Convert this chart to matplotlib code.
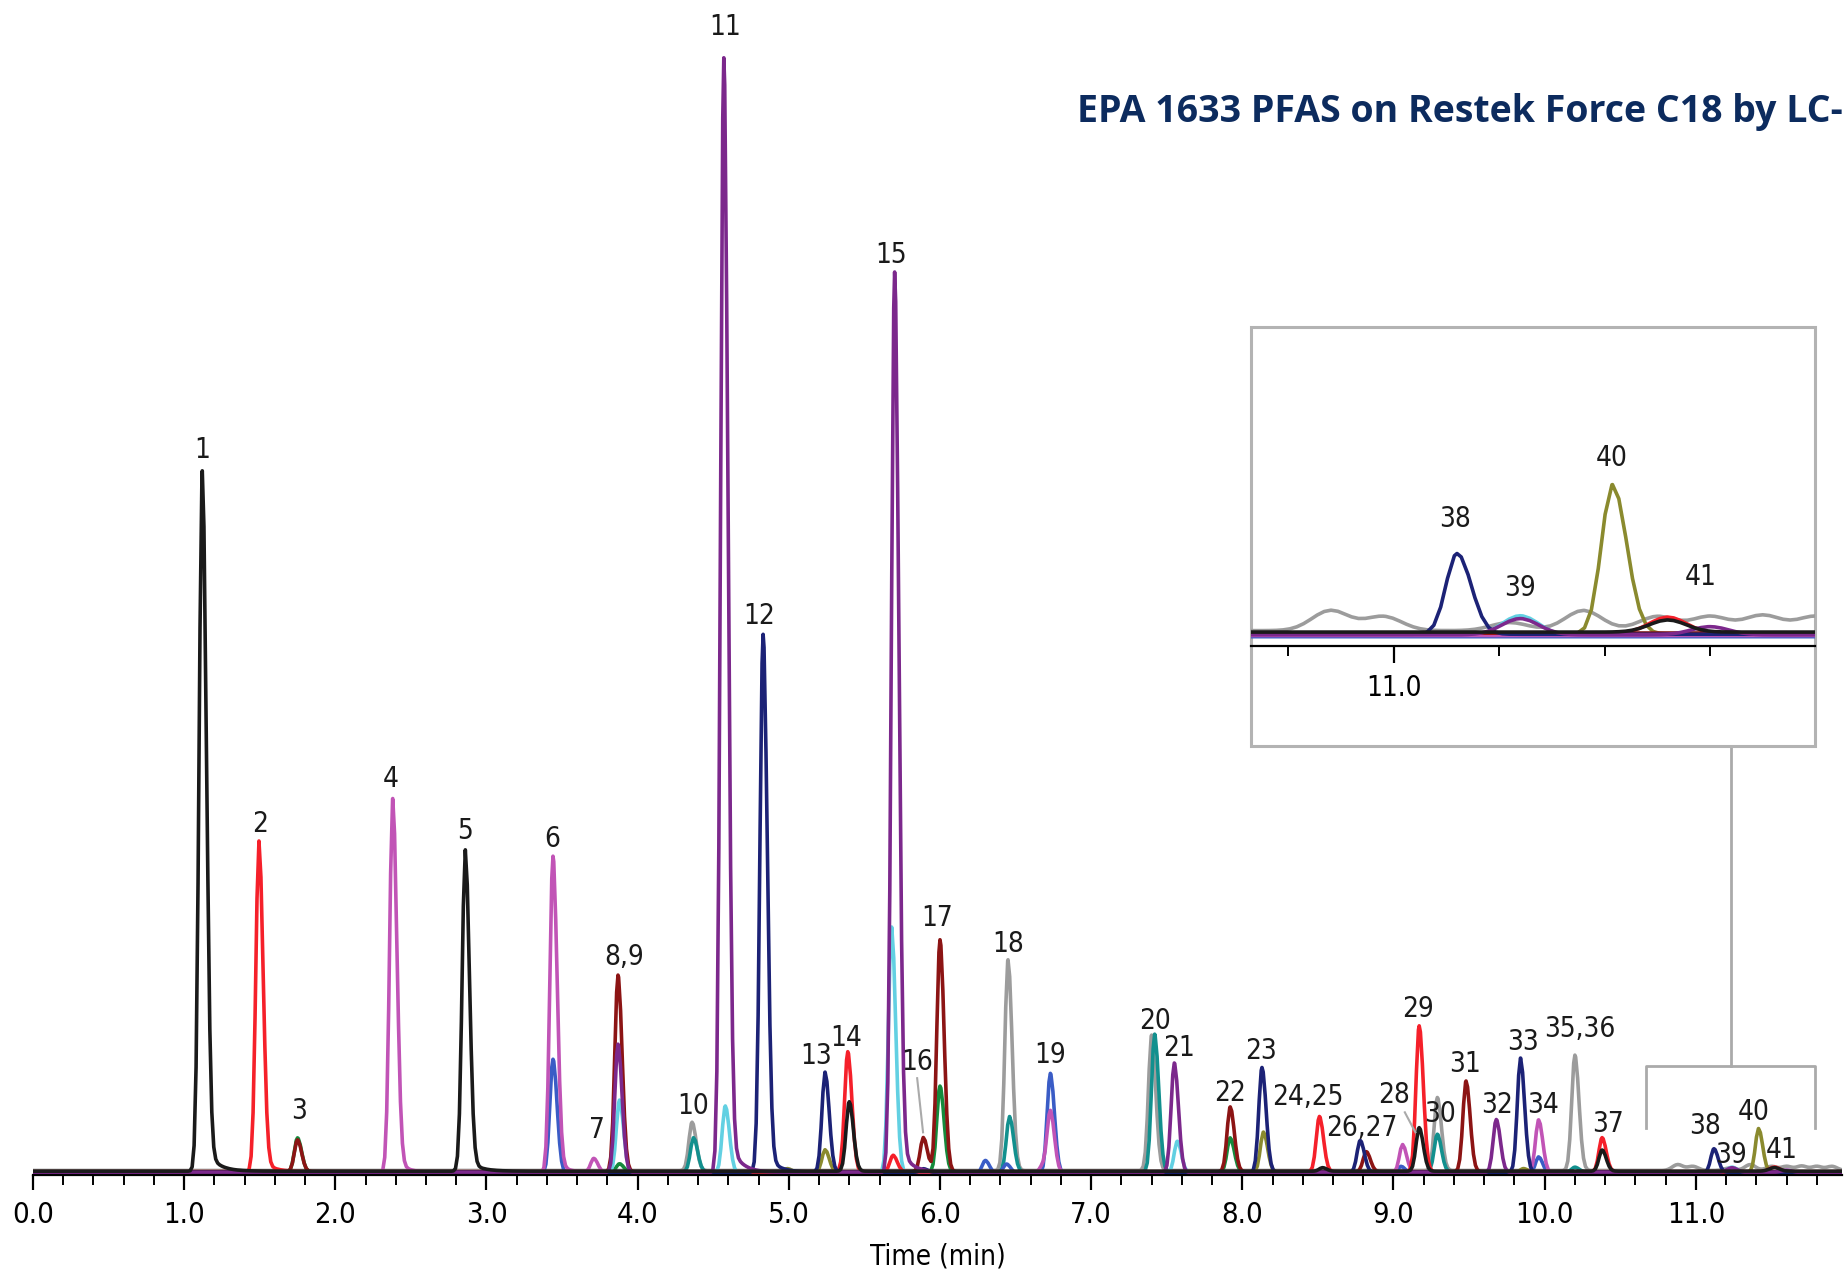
import numpy as np
import matplotlib
matplotlib.use('Agg')
from matplotlib import pyplot as plt
from matplotlib.patches import Rectangle

# retention times (min) and heights (arbitrary units), per trace colour
black_rt = [1.12, 2.86, 5.40, 8.53, 9.17, 10.38, 11.52]
black_h = [595, 273, 59, 3, 37, 18, 3]
red_rt = [1.495, 5.39, 5.69, 8.51, 9.17, 10.38, 11.52]
red_h = [281, 102, 14, 47, 124, 29, 4]
darkred_rt = [1.75, 3.87, 5.89, 6.00, 7.92, 8.82, 9.48]
darkred_h = [27, 167, 29, 197, 55, 17, 77]
orchid_rt = [2.38, 3.44, 3.71, 6.68, 6.73, 9.06, 9.96]
orchid_h = [318, 269, 12, 6, 52, 24, 45]
purple_rt = [3.87, 4.57, 5.70, 7.55, 9.68, 11.24, 11.60]
purple_h = [109, 947, 765, 93, 45, 4, 2]
navy_rt = [4.83, 5.24, 5.89, 8.13, 8.78, 9.84, 11.12]
navy_h = [457, 85, 3, 89, 27, 97, 20]
blue_rt = [3.44, 6.30, 6.44, 6.73, 9.05, 9.96]
blue_h = [97, 11, 8, 85, 6, 14]
cyan_rt = [3.88, 4.58, 5.68, 7.57, 11.24]
cyan_h = [62, 57, 209, 27, 5]
teal_rt = [4.37, 6.46, 7.42, 9.29, 10.20]
teal_h = [29, 47, 117, 32, 4]
green_rt = [1.75, 3.88, 6.00, 7.92]
green_h = [29, 7, 73, 29]
grey_rt = [4.36, 6.45, 7.40, 9.29, 10.20]
grey_h = [41, 179, 115, 62, 98]
olive_rt = [4.99, 5.24, 8.14, 9.86, 11.415]
olive_h = [3, 19, 34, 3, 37]
# late grey baseline drift (broad low bumps)
grey_drift_rt = [10.88, 10.98, 11.22, 11.36, 11.50, 11.60, 11.70, 11.80, 11.90]
grey_drift_h = [5, 3.5, 2, 5, 3.5, 3.5, 3.8, 3.5, 3.5]

peak_labels = ['1', '2', '3', '4', '5', '6', '7', '8,9', '10', '11', '12', '13', '14', '15', '16',
               '17', '18', '19', '20', '21', '22', '23', '24,25', '26,27', '28', '29', '30', '31',
               '32', '33', '34', '35,36', '37', '38', '39', '40', '41']
label_t = [1.121, 1.503, 1.760, 2.368, 2.858, 3.435, 3.730, 3.910, 4.369, 4.579, 4.805, 5.179,
           5.382, 5.678, 5.849, 5.981, 6.449, 6.729, 7.422, 7.578, 7.921, 8.123, 8.435, 8.793,
           9.003, 9.159, 9.307, 9.470, 9.688, 9.860, 9.992, 10.234, 10.420, 11.059, 11.231,
           11.386, 11.565]
label_y = [613, 295, 51, 333, 289, 282, 35, 182, 55, 972, 472, 98, 113, 778, 93, 215, 193, 99,
           128, 105, 66, 102, 63, 37, 65, 138, 49, 91, 56, 110, 56, 121, 40, 38, 14, 50, 18]

inset_labels = ['38', '39', '40', '41']
inset_label_t = [11.116, 11.239, 11.414, 11.582]
inset_label_y = [28.0, 10.8, 43.1, 13.7]

traces = [
    # rt, heights, colour, baseline offset
    (grey_rt + grey_drift_rt, grey_h + grey_drift_h, '#9c9c9c', 0.6),
    (olive_rt, olive_h, '#8a8a2e', -0.8),
    (teal_rt, teal_h, '#12908e', -0.6),
    (green_rt, green_h, '#158a3c', -0.7),
    (cyan_rt, cyan_h, '#62d0e2', -1.6),
    (blue_rt, blue_h, '#3a5cc6', -1.9),
    (orchid_rt, orchid_h, '#c154b6', -1.4),
    (red_rt, red_h, '#f5202a', -0.5),
    (darkred_rt, darkred_h, '#8c1414', -0.4),
    (navy_rt, navy_h, '#1c2276', -0.9),
    (purple_rt, purple_h, '#7c288c', -1.1),
    (black_rt, black_h, '#1a1a1a', 0.0),
]


def trace(rts, hs):
    # sampling grid plus the apex of every peak so tops are not cut
    t = np.union1d(np.arange(0.0, 11.98, 0.013), rts)
    y = np.zeros_like(t)
    for rt, h in zip(rts, hs):
        sig = np.where(t < rt, 0.021, 0.027)
        if h < 6 and rt > 10.7:
            sig = np.full_like(t, 0.035)
        y += h * np.exp(-0.5 * ((t - rt) / sig) ** 2)
        if h > 250:
            # slight tailing on the big early peaks
            dt = np.clip(t - rt - 0.03, 0, None)
            y += np.where(t > rt + 0.03, 0.03 * h * np.exp(-dt / 0.07), 0)
    return t, y


fig = plt.figure(figsize=(18.46, 12.83), dpi=100)
narrow = dict(family='DejaVu Sans', stretch='condensed')

# main chromatogram
ax = fig.add_axes([28 / 1568, 1 - 998 / 1090, 1537 / 1568, 963 / 1090])
for rts, hs, col, off in traces:
    tt, yy = trace(rts, hs)
    ax.plot(tt, yy + off, color=col, lw=2.6, solid_joinstyle='round')
ax.set_xlim(0, 11.97)
ax.set_ylim(-3, 960)
for s in ['left', 'right', 'top']:
    ax.spines[s].set_visible(False)
ax.spines['bottom'].set_linewidth(1.6)
ax.set_yticks([])
ax.set_xticks(np.arange(0, 12, 1.0))
ax.set_xticklabels(['%.1f' % v for v in np.arange(0, 12, 1.0)], fontsize=21, **narrow)
ax.set_xticks(np.arange(0, 12, 0.2), minor=True)
ax.tick_params(axis='x', which='major', length=11, width=1.6, pad=8)
ax.tick_params(axis='x', which='minor', length=7, width=1.4)
ax.set_xlabel('Time (min)', fontsize=20, labelpad=10, **narrow)
ax.patch.set_alpha(0)

for lab, lt, ly in zip(peak_labels, label_t, label_y):
    ax.text(lt, ly, lab, fontsize=20, ha='center', va='center',
            color='#1a1a1a', clip_on=False, **narrow)

# leader lines for 16 and 28
ax.plot([5.849, 5.888], [79, 33], color='#aaaaaa', lw=1.5)
ax.plot([9.075, 9.145], [50, 33], color='#aaaaaa', lw=1.5)

# bracket and connector to the inset
ax.plot([10.67, 10.67, 11.79, 11.79], [37, 89, 89, 37], color='#aaaaaa', lw=2, clip_on=False)
ax.plot([11.23, 11.23], [89, 380], color='#aaaaaa', lw=2, clip_on=False)

# inset frame
box = Rectangle((1063 / 1568, 1 - 634 / 1090), 479 / 1568, 356 / 1090,
                transform=fig.transFigure, facecolor='white', edgecolor='#b3b3b3', lw=2.2, zorder=1)
fig.add_artist(box)

axin = fig.add_axes([1063 / 1568, 1 - 549 / 1090, 479 / 1568, 271 / 1090], zorder=2)
axin.patch.set_alpha(0)
for rts, hs, col, off in traces:
    tt, yy = trace(rts, hs)
    axin.plot(tt, yy + off * 0.6, color=col, lw=2.6)
axin.set_xlim(10.73, 11.80)
axin.set_ylim(-3.5, 75.5)
for s in ['left', 'right', 'top']:
    axin.spines[s].set_visible(False)
axin.spines['bottom'].set_linewidth(1.6)
axin.set_yticks([])
axin.set_xticks([11.0])
axin.set_xticklabels(['11.0'], fontsize=20, **narrow)
axin.set_xticks([10.8, 11.2, 11.4, 11.6], minor=True)
axin.tick_params(axis='x', which='major', length=12, width=1.6, pad=8)
axin.tick_params(axis='x', which='minor', length=7, width=1.4)
for lab, lt, ly in zip(inset_labels, inset_label_t, inset_label_y):
    axin.text(lt, ly, lab, fontsize=20, ha='center', va='center', color='#1a1a1a', **narrow)

fig.text(915 / 1568, 1 - 104 / 1090, 'EPA 1633 PFAS on Restek Force C18 by LC-',
         family=['Open Sans', 'DejaVu Sans'], fontweight='bold', fontsize=27,
         color='#0c2b5e', ha='left', va='baseline')

fig.savefig('out.png', dpi=100)
